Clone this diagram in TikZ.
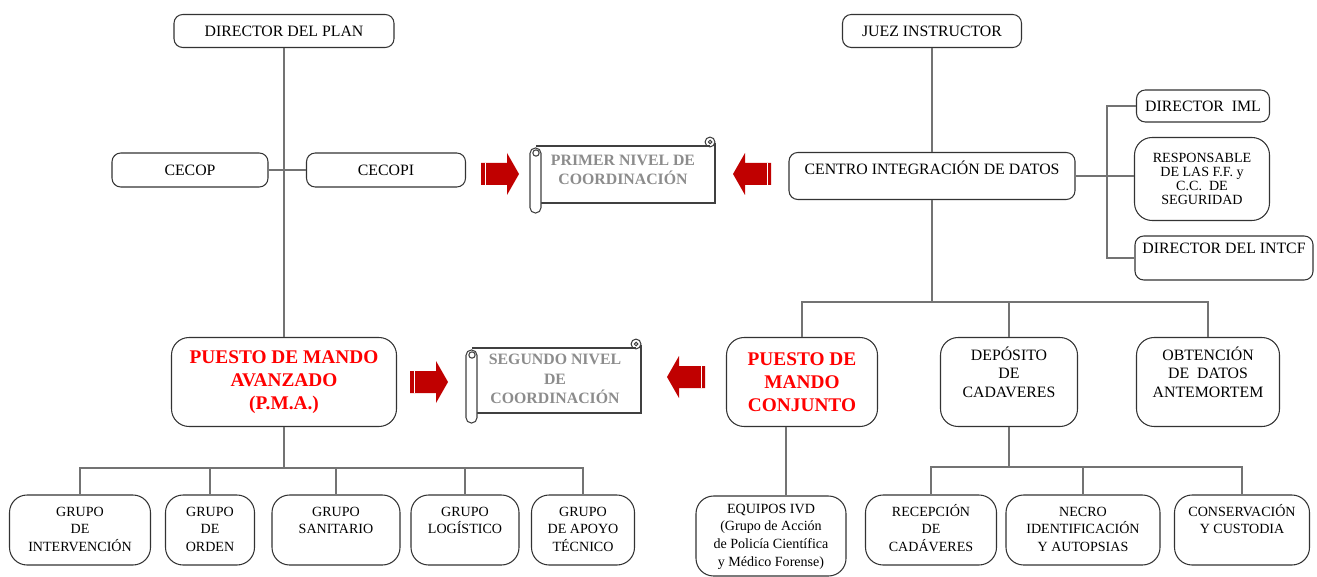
\documentclass[tikz,border=0pt]{standalone}
\usepackage{fontspec}
\setmainfont{Liberation Serif}
\usepackage{tikz}

\definecolor{arrowred}{RGB}{192,0,0}
\definecolor{scrollgray}{RGB}{140,140,140}
\newlength{\pix}
\setlength{\pix}{0.02cm}
% text box with the lines set from the top: width, height, first baseline, text
\newcommand{\topbox}[4]{\parbox[c][#2\pix][t]{#1\pix}{\centering\rule{0pt}{#3\pix}#4}}
% scroll: left, top, right, bottom
\newcommand{\scrollbox}[4]{%
  \fill[white] (#1+6,#2+8) rectangle (#3,#4-10);
  \draw[scrollline] (#1+6,#2+8) -- (#3-5,#2+8);
  \draw[scrollline] (#3,#2+5) -- (#3,#4-10) -- (#1+11,#4-10);
  \draw[scrollline] (#3-5,#2+4) circle (2.8pt);
  \draw[scrollline] (#3-5,#2+4) circle (1pt);
  \filldraw[scrollline, fill=white, rounded corners=3pt] (#1,#2+10) rectangle (#1+11,#4);
  \draw[scrollline] (#1+6,#2+15) circle (1.8pt);
}
% block arrow: x, y, direction (1 right, -1 left)
\newcommand{\blockarrow}[3]{%
  \fill[arrowred, shift={(#1,#2)}, xscale=#3] (-19,-11) -- (7,-11) -- (7,-21) -- (19,0) -- (7,21) -- (7,11) -- (-19,11) -- cycle;
  \draw[white, line width=0.5pt, shift={(#1,#2)}, xscale=#3] (-15,-11) -- (-15,11);
}

\tikzset{
  box/.style={draw=black!80, line width=0.6pt, rounded corners=5pt, fill=white, inner sep=0pt, align=center, font=\fontsize{9}{10.5}\selectfont},
  tall/.style={box, rounded corners=10pt},
  grp/.style={tall, font=\fontsize{8}{10.2}\selectfont},
  command/.style={tall, text=red, font=\fontsize{11}{13}\selectfont\bfseries},
  scrolltext/.style={text=scrollgray, inner sep=0pt, align=center, font=\fontsize{9}{11}\selectfont\bfseries},
  scrollline/.style={draw=black!75, line width=0.6pt},
  link/.style={draw=black!55, line width=0.7pt}
}

\begin{document}
\begin{tikzpicture}[x=0.02cm, y=-0.02cm]
\useasboundingbox (0,0) rectangle (1317,577);

% left branch
\node[box, minimum width=220*\pix, minimum height=33*\pix] (dirplan) at (284,31) {DIRECTOR DEL PLAN};
\node[box, minimum width=156*\pix, minimum height=34*\pix] (cecop) at (190,170) {CECOP};
\node[box, minimum width=159*\pix, minimum height=34*\pix] (cecopi) at (386,170) {CECOPI};
\node[command, minimum width=225*\pix, minimum height=89*\pix] (pma) at (284,382) {PUESTO DE MANDO\\AVANZADO\\(P.M.A.)};

\node[grp] (interv) at (80,530) {\topbox{141}{70}{21}{GRUPO\\DE\\INTERVENCIÓN}};
\node[grp] (orden) at (210,530) {\topbox{89}{70}{21}{GRUPO\\DE\\ORDEN}};
\node[grp] (sanit) at (336,530) {\topbox{128}{70}{21}{GRUPO\\SANITARIO}};
\node[grp] (logist) at (465,530) {\topbox{108}{70}{21}{GRUPO\\LOGÍSTICO}};
\node[grp] (apoyo) at (583,530) {\topbox{103}{70}{21}{GRUPO\\DE APOYO\\TÉCNICO}};

% right branch
\node[box, minimum width=179*\pix, minimum height=33*\pix] (juez) at (932,31) {JUEZ INSTRUCTOR};
\node[box] (centro) at (932,176) {\topbox{286}{47}{22}{CENTRO INTEGRACIÓN DE DATOS}};
\node[box, minimum width=133*\pix, minimum height=32*\pix] (dirIML) at (1203,106) {DIRECTOR\ \ IML};
\node[tall, minimum width=135*\pix, minimum height=83*\pix, font=\fontsize{8}{7.9}\selectfont] (resp) at (1202,179) {RESPONSABLE\\DE LAS F.F. y\\C.C.\ \ DE\\SEGURIDAD};
\node[box] (intcf) at (1224,258) {\topbox{178}{44}{18}{DIRECTOR DEL INTCF}};

\node[command, minimum width=151*\pix, minimum height=89*\pix] (pmc) at (802,382) {PUESTO DE\\MANDO\\CONJUNTO};
\node[tall] (deposito) at (1009,382) {\topbox{137}{89}{23}{DEPÓSITO\\DE\\CADAVERES}};
\node[tall] (obten) at (1208,382) {\topbox{143}{89}{23}{OBTENCIÓN\\DE\ \ DATOS\\ANTEMORTEM}};

\node[grp] (equipos) at (771,536) {\topbox{150}{80}{17}{EQUIPOS IVD\\(Grupo de Acción\\de Policía Científica\\y Médico Forense)}};
\node[grp] (recep) at (931,530) {\topbox{131}{70}{21}{RECEPCIÓN\\DE\\CADÁVERES}};
\node[grp] (necro) at (1083,530) {\topbox{154}{70}{21}{NECRO\\IDENTIFICACIÓN\\Y AUTOPSIAS}};
\node[grp] (conserv) at (1242,530) {\topbox{135}{70}{21}{CONSERVACIÓN\\Y CUSTODIA}};

% coordination scrolls and arrows
\scrollbox{530}{138}{715}{213}
\node[scrolltext] (primer) at (623,170) {PRIMER NIVEL DE\\COORDINACIÓN};
\scrollbox{466}{340}{641}{423}
\node[scrolltext] (segundo) at (555,379) {SEGUNDO NIVEL\\DE\\COORDINACIÓN};
\blockarrow{500}{174}{1}
\blockarrow{752}{174}{-1}
\blockarrow{429}{382}{1}
\blockarrow{686}{377}{-1}

% connectors
\coordinate (busL) at (284,468);
\coordinate (busR) at (1009,467);
\coordinate (busT) at (932,302);
\coordinate (brk) at (1107,178);
\coordinate (eqdrop) at (786,495);

\draw[link] (dirplan.south) -- (pma.north);
\draw[link] (cecop.east) -- (cecopi.west);
\draw[link] (pma.south) -- (busL);
\draw[link] (interv.north) |- (busL) -| (apoyo.north);
\draw[link] (orden.north) -- (orden.north |- busL);
\draw[link] (sanit.north) -- (sanit.north |- busL);
\draw[link] (logist.north) -- (logist.north |- busL);

\draw[link] (juez.south) -- (centro.north);
\draw[link] (centro.east) -- (resp.west |- centro.east);
\draw[link] (dirIML.west) -| (brk) |- (intcf.west);
\draw[link] (centro.south) -- (busT);
\draw[link] (pmc.north) |- (busT) -| (obten.north);
\draw[link] (deposito.north) -- (deposito.north |- busT);
\draw[link] (eqdrop) -- (eqdrop |- pmc.south);
\draw[link] (deposito.south) -- (busR);
\draw[link] (recep.north) |- (busR) -| (conserv.north);
\draw[link] (necro.north) -- (necro.north |- busR);
\end{tikzpicture}
\end{document}
